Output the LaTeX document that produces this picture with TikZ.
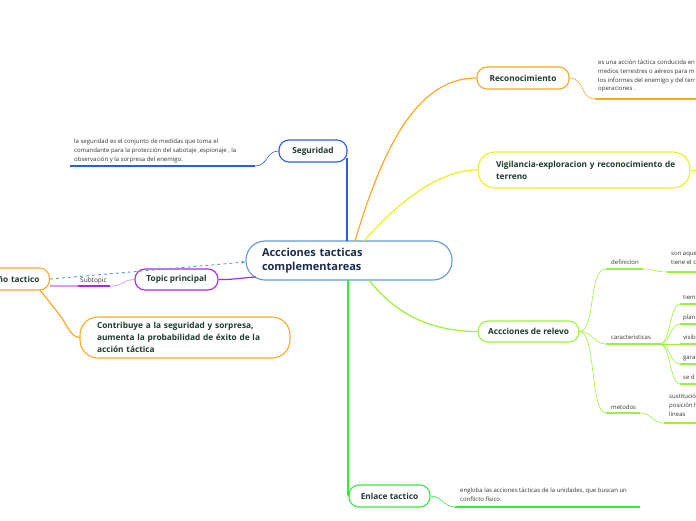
\documentclass[tikz,border=0pt]{standalone}
\usepackage{fontspec}
\setmainfont{Open Sans}
\usetikzlibrary{arrows.meta}
\definecolor{segblue}{HTML}{2B5CE6}
\definecolor{cblue}{HTML}{5B9BD5}
\definecolor{dblue}{HTML}{5B9BD5}
\definecolor{orng}{HTML}{F7A928}
\definecolor{yell}{HTML}{EEEE1F}
\definecolor{lgreen}{HTML}{9CF03C}
\definecolor{grn}{HTML}{3CE63C}
\definecolor{purp}{HTML}{A22BE8}
\definecolor{lpurp}{HTML}{D59CF5}
\definecolor{tgreen}{HTML}{1E3B2C}
\definecolor{tnavy}{HTML}{1B2B4B}
\definecolor{tsmall}{HTML}{333333}
\tikzset{
  mmbox/.style={draw, rounded corners=10pt, fill=white, line width=1.1pt, text=tgreen,
    font=\bfseries\fontsize{8.3}{12}\selectfont, inner sep=0pt, minimum height=22pt},
  note/.style={text=tsmall, font=\fontsize{6}{8.7}\selectfont, align=left, inner sep=0pt},
  conn/.style={line width=1.2pt},
  uline/.style={line width=2pt},
}
\begin{document}
\begin{tikzpicture}[x=1pt,y=-1pt]
\useasboundingbox (0,0) rectangle (696,520);
% central
\node[mmbox, draw=cblue, rounded corners=19pt, text=tnavy, font=\bfseries\fontsize{11}{14}\selectfont,
  text width=174pt, inner xsep=16pt, align=left, minimum height=39pt] (c) at (349,260.5)
  {Accciones tacticas\\complementareas};
% Seguridad
\node[mmbox, draw=segblue, minimum width=68pt] (seg) at (313,151) {Seguridad};
\draw[segblue, line width=2pt] (347,241) -- (347,158);
\node[note, anchor=north west] (segn) at (74,139)
  {la seguridad es el conjunto de medidas que toma el\\comandante para la protección del sabotaje ,espionaje , la\\observación y la sorpresa del enemigo.};
\coordinate (segu1) at (70,166);
\coordinate (segu2) at (255,166);
\draw[segblue, uline] (segu1) -- (segu2);
\draw[segblue, line width=0.6pt] (segu2) .. controls (268,166) and (266,151) .. (seg.west);
% Reconocimiento
\node[mmbox, draw=orng, minimum width=92pt] (rec) at (523,78) {Reconocimiento};
\draw[orng, conn] (355,241) .. controls (385,140) and (420,78) .. (rec.west);
\node[note, anchor=north west] (recn) at (598,60)
  {es una acción táctica conducida en\\medios terrestres o aéreos para m\\los informes del enemigo y del terr\\operaciones .};
\coordinate (recu1) at (595,99);
\coordinate (recu2) at (696,99);
\draw[orng, uline] (recu1) -- (recu2);
\draw[orng, line width=0.6pt] (rec.east) .. controls (585,78) and (580,99) .. (recu1);
% Vigilancia
\node[mmbox, draw=yell, rounded corners=17pt, text width=176pt, inner xsep=18pt, align=left, minimum height=36pt]
  (vig) at (584,170) {\mbox{Vigilancia-exploracion y reconocimiento de}\\terreno};
\draw[yell, conn] (364,241) .. controls (400,200) and (440,170) .. (vig.west);
\coordinate (vige) at (696,170);
\draw[yell, line width=0.8pt] (vig.east) -- (vige);
% Relevo
\node[mmbox, draw=lgreen, minimum width=101pt, minimum height=21pt] (rel) at (528.5,331.5) {Accciones de relevo};
\draw[lgreen, conn] (369,280) .. controls (400,320) and (440,331.5) .. (rel.west);
% definicion
\node[note, anchor=base west] (def) at (611,264) {definicion};
\coordinate (defa) at (606,269); \coordinate (defb) at (643,269);
\draw[lgreen, uline] (defa) -- (defb);
\draw[lgreen, line width=0.6pt] (rel.east) .. controls (596,331) and (588,269) .. (defa);
\node[note, anchor=north west] (defn) at (671,252) {son aque\\tiene el c};
\coordinate (defc) at (667,272); \coordinate (defd) at (696,272);
\draw[lgreen, uline] (defc) -- (defd);
\draw[lgreen, line width=0.6pt] (defb) .. controls (656,269) and (654,272) .. (defc);
% caracteristicas
\node[note, anchor=base west] (car) at (611,339) {caracteristicas};
\coordinate (cara) at (606,344); \coordinate (carb) at (660,344);
\draw[lgreen, uline] (cara) -- (carb);
\draw[lgreen, line width=0.6pt] (rel.east) .. controls (592,331) and (594,344) .. (cara);
\foreach \y/\t [count=\i] in {304/tiem, 324/plan, 344/visib, 364/gara, 384/se d}{
  \node[note, anchor=base west] (k\i) at (683,\y-5) {\t};
  \coordinate (ka\i) at (680,\y);
  \draw[lgreen, uline] (ka\i) -- (696,\y);
  \draw[lgreen, line width=0.6pt] (carb) .. controls (670,344) and (670,\y) .. (ka\i);
}
% metodos
\node[note, anchor=base west] (met) at (611,409) {metodos};
\coordinate (meta) at (606,413); \coordinate (metb) at (640,413);
\draw[lgreen, uline] (meta) -- (metb);
\draw[lgreen, line width=0.6pt] (rel.east) .. controls (596,331) and (590,413) .. (meta);
\node[note, anchor=north west] (metn) at (669,394) {sustitució\\posición h\\lineas};
\coordinate (metc) at (664,423); \coordinate (metd) at (696,423);
\draw[lgreen, uline] (metc) -- (metd);
\draw[lgreen, line width=0.6pt] (metb) .. controls (652,413) and (652,423) .. (metc);
% Enlace
\node[mmbox, draw=grn, minimum width=81pt] (enl) at (389.5,496) {Enlace tactico};
\draw[grn, line width=2pt] (348,280) -- (348,490) .. controls (348,494) .. (enl.west);
\node[note, anchor=north west] (enln) at (460,488) {engloba las acciones tácticas de la unidades, que buscan un\\conflicto físico.};
\coordinate (enlu1) at (455,507); \coordinate (enlu2) at (640,507);
\draw[grn, uline] (enlu1) -- (enlu2);
\draw[grn, line width=0.6pt] (enl.east) .. controls (442,496) and (444,507) .. (enlu1);
% Topic principal
\node[mmbox, draw=purp, minimum width=83pt, minimum height=21pt] (tp) at (176.5,279.5) {Topic principal};
\draw[purp, conn] (tp.east) .. controls (230,280) and (240,278) .. (256,277);
\node[note, anchor=base west, text=tsmall, font=\fontsize{6.5}{8}\selectfont] (sub) at (80,282) {Subtopic};
\coordinate (subu1) at (50,286); \coordinate (subm) at (78,286); \coordinate (subu2) at (110,286);
\draw[lpurp, uline] (subu1) -- (subm);
\draw[purp, uline] (subm) -- (subu2);
\draw[lpurp, line width=0.8pt] (subu2) .. controls (124,286) and (122,280) .. (tp.west);
% ño tactico
\node[mmbox, draw=orng, anchor=east, text width=80pt, align=right, inner xsep=10pt] (dis) at (50,279) {ño tactico};
\draw[dblue, line width=0.9pt, dashed, -{Stealth[length=4pt]}] (dis.east) -- (c.west |- 0,262);
\node[mmbox, draw=orng, rounded corners=18pt, text width=176pt, inner xsep=17pt, align=left, minimum height=41pt]
  (con) at (185,337.5) {Contribuye a la seguridad y sorpresa,\\aumenta la probabilidad de éxito de la\\acción táctica};
\draw[orng, conn] (40,290) -- (62,318) .. controls (68,328) and (72,337) .. (con.west);
\end{tikzpicture}
\end{document}
